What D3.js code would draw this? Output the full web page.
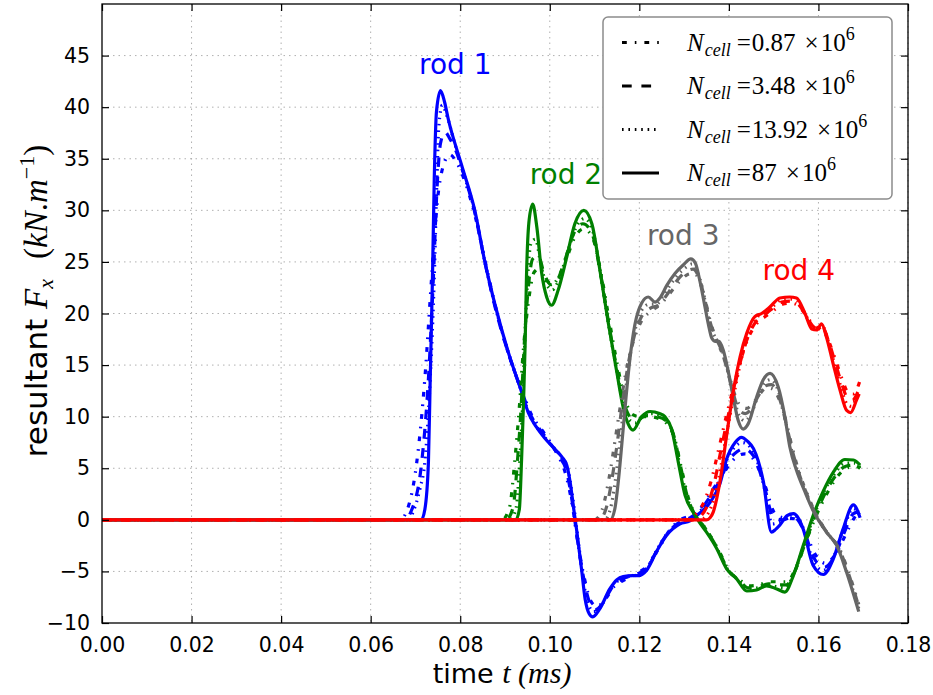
<!DOCTYPE html>
<html><head><meta charset="utf-8">
<script src="https://cdn.jsdelivr.net/npm/d3@7"></script>
<style>body{margin:0;background:#fff}svg{display:block}</style>
</head><body>
<svg id="c" width="933" height="695"></svg>
<script>
// ---------- data ----------
const xTicks = [0, 0.02, 0.04, 0.06, 0.08, 0.10, 0.12, 0.14, 0.16, 0.18];
const yTicks = [-10, -5, 0, 5, 10, 15, 20, 25, 30, 35, 40, 45];
const rodNames = ["rod 1", "rod 2", "rod 3", "rod 4"];
const rodColors = ["#0000ff", "#008000", "#666666", "#ff0000"];
const meshLabels = ["0.87", "3.48", "13.92", "87"];
// label anchor positions in data space [t, F]
const rodLabelPos = [[0.0789, 43.2], [0.1036, 32.6], [0.1298, 26.6], [0.1556, 23.2]];

// rod 1 (blue)
const rod1_087 = [[0,0],[0.0665,0],[0.0680,0.8],[0.0703,5.6],[0.0721,13.7],[0.0736,23.4],[0.0748,30.5],[0.0762,34.3],[0.0777,35.4],[0.0790,34.8],[0.0808,33.1],[0.0833,29.5],[0.0855,25.2],[0.0878,20.8],[0.0907,16.2],[0.0937,12.6],[0.0958,10.3],[0.0989,8.3],[0.1015,6.5],[0.1035,4.5],[0.1050,1.5],[0.1063,-2.3],[0.1078,-5.8],[0.1092,-7.9],[0.1106,-8.4],[0.1122,-7.8],[0.1145,-6.4],[0.1168,-5.8],[0.1198,-5.1],[0.1222,-4.3],[0.1243,-2.8],[0.1268,-1.0],[0.1291,0.0],[0.1313,0.4],[0.1338,1.2],[0.1362,2.8],[0.1385,4.3],[0.1402,5.4],[0.1420,6.2],[0.1436,6.4],[0.1458,5.7],[0.1480,3.4],[0.1503,0.6],[0.1522,0.2],[0.1546,0.1],[0.1568,-0.9],[0.1592,-3.3],[0.1615,-4.2],[0.1637,-3.4],[0.1660,-1.5],[0.1680,0.2],[0.1693,0.9]];
const rod1_348 = [[0,0],[0.0675,0],[0.0690,0.8],[0.0714,5.6],[0.0729,13.7],[0.0740,23.4],[0.0748,32],[0.0756,36.5],[0.0766,37.6],[0.0776,37.0],[0.0790,35.8],[0.0808,33.5],[0.0833,29.7],[0.0855,25.0],[0.0878,20.6],[0.0907,16.2],[0.0937,12.5],[0.0955,10.4],[0.0989,8.1],[0.1020,6.2],[0.1038,4.6],[0.1050,1.8],[0.1062,-2.0],[0.1075,-5.5],[0.1088,-7.9],[0.1102,-8.7],[0.1118,-8.1],[0.1140,-6.5],[0.1164,-5.7],[0.1198,-5.2],[0.1220,-4.5],[0.1240,-2.9],[0.1265,-1.2],[0.1291,-0.2],[0.1313,0.2],[0.1335,0.9],[0.1360,2.4],[0.1382,4.0],[0.1398,5.6],[0.1418,6.6],[0.1433,6.9],[0.1455,6.2],[0.1477,3.6],[0.1500,0.2],[0.1520,0.0],[0.1544,0.3],[0.1566,-0.9],[0.1590,-3.7],[0.1613,-4.6],[0.1635,-3.6],[0.1657,-1.3],[0.1678,0.6],[0.1693,0.8]];
const rod1_1392 = [[0,0],[0.0685,0],[0.0695,0.8],[0.0710,3.0],[0.0721,5.6],[0.0733,13.7],[0.0742,23.4],[0.0748,33],[0.0752,38],[0.0760,40.2],[0.0770,39.2],[0.0785,36.9],[0.0803,34.2],[0.0833,29.8],[0.0855,25.0],[0.0878,20.7],[0.0907,16.3],[0.0937,12.4],[0.0952,10.5],[0.0989,8.0],[0.1027,6.0],[0.1040,5.0],[0.1050,2.5],[0.1062,-1.5],[0.1073,-5.2],[0.1082,-7.6],[0.1098,-8.9],[0.1114,-8.4],[0.1134,-6.8],[0.1164,-5.6],[0.1198,-5.3],[0.1216,-4.7],[0.1238,-3.0],[0.1261,-1.4],[0.1291,-0.3],[0.1313,0.0],[0.1330,0.6],[0.1358,2.0],[0.1380,3.8],[0.1395,5.8],[0.1414,7.1],[0.1430,7.5],[0.1455,6.6],[0.1477,3.5],[0.1497,-0.4],[0.1514,-0.2],[0.1544,0.5],[0.1566,-0.8],[0.1588,-4.0],[0.1611,-4.9],[0.1633,-3.7],[0.1655,-1.0],[0.1678,1.1],[0.1693,0.4]];
const rod1_87 = [[0,0],[0.0713,0],[0.0721,1.0],[0.0729,5.6],[0.0733,13.7],[0.0738,23.4],[0.0742,33],[0.0747,39.6],[0.0756,41.6],[0.0765,40.5],[0.0773,38.9],[0.0803,34.4],[0.0833,29.9],[0.0855,25.0],[0.0878,20.8],[0.0907,16.3],[0.0937,12.4],[0.0952,10.4],[0.0970,9.0],[0.0989,7.9],[0.1010,6.9],[0.1027,6.1],[0.1038,5.3],[0.1046,3.5],[0.1053,1.2],[0.1060,-1.0],[0.1071,-4.8],[0.1079,-7.7],[0.1088,-9.1],[0.1096,-9.4],[0.1112,-8.6],[0.1134,-6.7],[0.1150,-5.8],[0.1164,-5.5],[0.1185,-5.4],[0.1198,-5.4],[0.1216,-4.9],[0.1238,-3.1],[0.1261,-1.5],[0.1291,-0.4],[0.1313,-0.1],[0.1328,0.4],[0.1358,1.7],[0.1380,3.5],[0.1395,5.9],[0.1414,7.5],[0.1428,8.0],[0.1442,7.6],[0.1455,6.9],[0.1477,3.7],[0.1495,-1.2],[0.1505,-0.9],[0.1514,-0.5],[0.1530,0.4],[0.1544,0.6],[0.1556,0.1],[0.1566,-0.9],[0.1588,-4.4],[0.1611,-5.3],[0.1633,-3.8],[0.1655,-0.9],[0.1678,1.45],[0.1693,0.2]];

// rod 2 (green)
const rod2_087 = [[0,0],[0.0893,0],[0.0910,1.2],[0.0922,5.8],[0.0932,10.9],[0.0941,16.5],[0.0952,21.0],[0.0965,24.0],[0.0978,24.4],[0.0992,23.3],[0.1006,22.8],[0.1020,23.6],[0.1038,25.4],[0.1056,27.4],[0.1076,28.2],[0.1096,27.3],[0.1114,24.0],[0.1133,19.3],[0.1151,15.0],[0.1168,11.7],[0.1185,10.2],[0.1202,10.0],[0.1222,10.0],[0.1244,9.8],[0.1262,9.3],[0.1278,8.0],[0.1294,5.0],[0.1309,2.2],[0.1326,0.4],[0.1349,-0.9],[0.1379,-3.1],[0.1401,-5.0],[0.1424,-5.8],[0.1446,-6.4],[0.1468,-6.3],[0.1490,-6.0],[0.1512,-6.0],[0.1530,-6.0],[0.1550,-4.6],[0.1572,-2.1],[0.1594,0.3],[0.1616,2.3],[0.1639,4.0],[0.1662,5.0],[0.1682,5.2],[0.1693,5.0]];
const rod2_348 = [[0,0],[0.0902,0],[0.0918,1.2],[0.0928,5.8],[0.0936,10.9],[0.0943,17.0],[0.0951,22.0],[0.0962,25.3],[0.0974,25.6],[0.0988,23.8],[0.1002,22.8],[0.1016,23.2],[0.1034,25.2],[0.1052,27.6],[0.1074,28.7],[0.1094,27.8],[0.1112,24.2],[0.1131,19.2],[0.1149,14.8],[0.1166,11.3],[0.1182,9.9],[0.1198,9.8],[0.1218,10.1],[0.1240,10.0],[0.1260,9.6],[0.1276,8.3],[0.1292,5.2],[0.1307,2.3],[0.1324,0.5],[0.1347,-0.8],[0.1377,-3.0],[0.1399,-4.9],[0.1422,-5.8],[0.1444,-6.6],[0.1466,-6.5],[0.1488,-6.2],[0.1510,-6.3],[0.1528,-6.3],[0.1548,-4.9],[0.1570,-2.3],[0.1592,0.3],[0.1614,2.5],[0.1637,4.2],[0.1661,5.2],[0.1681,5.3],[0.1693,5.0]];
const rod2_1392 = [[0,0],[0.0912,0],[0.0925,1.2],[0.0933,5.8],[0.0939,10.9],[0.0944,17.1],[0.0950,23.0],[0.0958,26.8],[0.0968,27.2],[0.0980,24.8],[0.0993,22.8],[0.1006,22.3],[0.1022,23.5],[0.1040,26.0],[0.1058,28.3],[0.1078,29.2],[0.1096,28.0],[0.1113,24.0],[0.1131,19.0],[0.1149,14.6],[0.1166,11.0],[0.1180,9.6],[0.1192,9.4],[0.1210,10.1],[0.1230,10.3],[0.1258,9.8],[0.1274,8.5],[0.1290,5.4],[0.1305,2.4],[0.1322,0.6],[0.1345,-0.7],[0.1375,-2.9],[0.1397,-4.8],[0.1420,-5.8],[0.1442,-6.7],[0.1464,-6.6],[0.1486,-6.3],[0.1508,-6.5],[0.1526,-6.6],[0.1546,-5.1],[0.1568,-2.4],[0.1590,0.4],[0.1612,2.7],[0.1635,4.4],[0.1660,5.5],[0.1680,5.5],[0.1693,5.1]];
const rod2_87 = [[0,0],[0.0924,0],[0.0932,1.0],[0.0937,5.8],[0.0941,10.9],[0.0945,17.1],[0.0948,23.6],[0.0954,29.1],[0.0962,30.6],[0.0971,28.4],[0.0982,23.9],[0.0993,21.6],[0.1004,20.8],[0.1019,22.3],[0.1038,25.5],[0.1056,28.7],[0.1076,30.0],[0.1094,28.7],[0.1112,24.2],[0.1131,19.0],[0.1149,14.5],[0.1164,10.9],[0.1175,9.3],[0.1186,8.7],[0.1205,10.0],[0.1224,10.5],[0.1245,10.3],[0.1257,10.0],[0.1272,8.8],[0.1287,5.6],[0.1302,2.4],[0.1320,0.75],[0.1335,-0.3],[0.1350,-1.2],[0.1373,-2.8],[0.1395,-4.75],[0.1417,-5.7],[0.1440,-6.9],[0.1462,-6.8],[0.1484,-6.4],[0.1507,-6.7],[0.1525,-7.0],[0.1544,-5.4],[0.1566,-2.5],[0.1588,0.4],[0.1611,2.8],[0.1633,4.6],[0.1659,5.85],[0.1678,5.8],[0.1693,5.3]];

// rod 3 (grey)
const rod3_087 = [[0,0],[0.1100,0],[0.1117,1.0],[0.1131,3.7],[0.1143,6.9],[0.1155,10.3],[0.1170,14.3],[0.1186,17.2],[0.1204,19.2],[0.1225,20.2],[0.1245,20.8],[0.1262,21.6],[0.1278,22.5],[0.1294,23.3],[0.1309,23.8],[0.1322,23.9],[0.1334,23.2],[0.1347,21.3],[0.1360,19.0],[0.1373,17.4],[0.1387,15.9],[0.1400,14.1],[0.1412,12.3],[0.1425,11.1],[0.1439,10.8],[0.1454,11.3],[0.1469,12.2],[0.1484,12.8],[0.1497,12.7],[0.1514,11.5],[0.1529,9.3],[0.1542,6.9],[0.1557,4.6],[0.1576,2.4],[0.1594,0.6],[0.1624,-1.5],[0.1647,-2.8],[0.1669,-5.3],[0.1690,-8.2]];
const rod3_348 = [[0,0],[0.1110,0],[0.1125,1.0],[0.1138,3.7],[0.1149,6.9],[0.1160,10.6],[0.1174,14.8],[0.1188,17.7],[0.1205,19.7],[0.1224,20.5],[0.1242,20.8],[0.1258,21.6],[0.1274,22.6],[0.1290,23.5],[0.1306,24.1],[0.1320,24.3],[0.1332,23.6],[0.1344,21.8],[0.1356,19.5],[0.1368,17.9],[0.1382,16.6],[0.1396,14.6],[0.1409,12.4],[0.1422,10.7],[0.1437,10.3],[0.1452,10.9],[0.1467,12.1],[0.1482,13.0],[0.1495,13.1],[0.1512,11.9],[0.1527,9.5],[0.1540,7.0],[0.1555,4.7],[0.1574,2.5],[0.1592,0.7],[0.1622,-1.4],[0.1645,-2.7],[0.1667,-5.2],[0.1690,-8.4]];
const rod3_1392 = [[0,0],[0.1122,0],[0.1135,1.0],[0.1146,3.7],[0.1155,6.9],[0.1165,10.8],[0.1177,15.2],[0.1190,18.3],[0.1205,20.3],[0.1222,20.9],[0.1238,20.9],[0.1252,21.6],[0.1268,22.7],[0.1285,23.7],[0.1302,24.4],[0.1318,24.8],[0.1330,24.0],[0.1340,22.6],[0.1350,20.5],[0.1360,18.6],[0.1372,17.5],[0.1385,16.4],[0.1398,14.4],[0.1410,12.1],[0.1422,10.2],[0.1436,9.6],[0.1450,10.3],[0.1465,12.0],[0.1480,13.3],[0.1494,13.6],[0.1511,12.4],[0.1526,9.7],[0.1538,7.1],[0.1553,4.8],[0.1572,2.6],[0.1590,0.8],[0.1620,-1.3],[0.1643,-2.6],[0.1665,-5.2],[0.1690,-8.6]];
const rod3_87 = [[0,0],[0.1135,0],[0.1145,1.0],[0.1153,3.7],[0.1160,6.9],[0.1168,10.8],[0.1179,15.6],[0.1190,18.9],[0.1205,21.0],[0.1220,21.6],[0.1235,21.1],[0.1246,21.5],[0.1261,22.7],[0.1280,23.9],[0.1298,24.7],[0.1315,25.3],[0.1325,24.9],[0.1335,23.2],[0.1345,21.0],[0.1354,19.0],[0.1362,17.6],[0.1370,17.3],[0.1378,17.3],[0.1387,16.5],[0.1399,14.3],[0.1410,11.8],[0.1421,9.6],[0.1432,8.8],[0.1443,9.3],[0.1462,11.9],[0.1477,13.6],[0.1492,14.2],[0.1510,12.9],[0.1525,10.0],[0.1536,7.1],[0.1551,4.8],[0.1570,2.7],[0.1588,0.9],[0.1618,-1.2],[0.1641,-2.5],[0.1663,-5.1],[0.1690,-8.9]];

// rod 4 (red)
const rod4_087 = [[0,0],[0.1305,0],[0.1325,0.5],[0.1343,1.6],[0.1360,3.7],[0.1377,6.8],[0.1394,10.0],[0.1410,12.8],[0.1426,15.4],[0.1443,17.6],[0.1462,19.0],[0.1481,19.7],[0.1500,20.3],[0.1520,20.9],[0.1540,21.0],[0.1557,20.7],[0.1574,19.7],[0.1589,18.9],[0.1602,18.5],[0.1613,18.2],[0.1624,17.2],[0.1639,15.4],[0.1654,13.5],[0.1667,12.3],[0.1678,12.2],[0.1688,12.9],[0.1692,13.4]];
const rod4_348 = [[0,0],[0.1320,0],[0.1338,0.4],[0.1352,1.4],[0.1367,3.5],[0.1382,6.7],[0.1398,10.0],[0.1413,13.0],[0.1428,15.7],[0.1444,17.9],[0.1462,19.3],[0.1480,19.9],[0.1498,20.5],[0.1518,21.1],[0.1538,21.2],[0.1555,20.9],[0.1572,19.8],[0.1587,18.8],[0.1600,18.5],[0.1611,18.5],[0.1622,17.4],[0.1637,15.3],[0.1652,13.2],[0.1665,11.8],[0.1676,11.6],[0.1687,12.3],[0.1692,12.8]];
const rod4_1392 = [[0,0],[0.1335,0],[0.1348,0.3],[0.1360,1.2],[0.1374,3.3],[0.1388,6.6],[0.1402,10.0],[0.1416,13.2],[0.1430,16.0],[0.1445,18.2],[0.1462,19.6],[0.1478,20.0],[0.1496,20.6],[0.1516,21.3],[0.1537,21.4],[0.1553,21.2],[0.1571,19.9],[0.1586,18.7],[0.1598,18.5],[0.1609,18.8],[0.1620,17.6],[0.1635,15.2],[0.1650,12.9],[0.1664,11.2],[0.1674,11.0],[0.1686,11.9],[0.1692,12.4]];
const rod4_87 = [[0,0],[0.1350,0],[0.1358,0.2],[0.1365,0.75],[0.1380,3.7],[0.1395,8.2],[0.1410,12.5],[0.1425,15.8],[0.1440,18.1],[0.1458,19.7],[0.1473,20.0],[0.1492,20.65],[0.1514,21.5],[0.1536,21.6],[0.1551,21.5],[0.1570,20.0],[0.1585,18.5],[0.1596,18.4],[0.1607,19.0],[0.1618,17.7],[0.1633,15.1],[0.1648,12.6],[0.1663,10.6],[0.1672,10.4],[0.1685,11.6],[0.1691,12.2]];

const rodSeries = [
  [rod1_087, rod1_348, rod1_1392, rod1_87],
  [rod2_087, rod2_348, rod2_1392, rod2_87],
  [rod3_087, rod3_348, rod3_1392, rod3_87],
  [rod4_087, rod4_348, rod4_1392, rod4_87]
];

// ---------- style / layout ----------
const W = 933, H = 695;
const L = 102, R = 908, T = 4, B = 623;
const LW = 3.2;
const dashes = ["4.8,8,1.6,8", "9.7,9.7", "1.6,4.8", null];
const serif = "'Liberation Serif', 'DejaVu Serif', serif";
const sans = "'DejaVu Sans', sans-serif";

const svg = d3.select("#c");
const x = d3.scaleLinear().domain([0, 0.18]).range([L, R]);
const y = d3.scaleLinear().domain([-10, 50]).range([B, T]);

svg.append("rect").attr("width", W).attr("height", H).attr("fill", "#fff");

// grid
const grid = svg.append("g").attr("stroke", "#b0b0b0").attr("stroke-width", 1).attr("stroke-dasharray", "1.5,4");
grid.selectAll(".gx").data(xTicks.slice(1)).enter().append("line")
  .attr("x1", d => x(d)).attr("x2", d => x(d)).attr("y1", T).attr("y2", B);
grid.selectAll(".gy").data(yTicks.slice(1)).enter().append("line")
  .attr("x1", L).attr("x2", R).attr("y1", d => y(d)).attr("y2", d => y(d));

// clip
svg.append("clipPath").attr("id", "clip").append("rect")
  .attr("x", L).attr("y", T).attr("width", R - L).attr("height", B - T);

const line = d3.line().x(d => x(d[0])).y(d => y(d[1])).curve(d3.curveMonotoneX);
const plot = svg.append("g").attr("clip-path", "url(#clip)");
rodSeries.forEach((series, ri) => {
  series.forEach((s, mi) => {
    const p = plot.append("path").datum(s)
      .attr("d", line).attr("fill", "none")
      .attr("stroke", rodColors[ri]).attr("stroke-width", LW)
      .attr("stroke-linejoin", "round");
    if (dashes[mi]) p.attr("stroke-dasharray", dashes[mi]);
  });
});

// rod labels
svg.selectAll(".rl").data(rodNames).enter().append("text")
  .attr("x", (d, i) => x(rodLabelPos[i][0]))
  .attr("y", (d, i) => y(rodLabelPos[i][1]))
  .attr("text-anchor", "middle")
  .attr("font-family", sans).attr("font-size", 28)
  .attr("fill", (d, i) => rodColors[i]).text(d => d);

// frame
svg.append("rect").attr("x", L).attr("y", T).attr("width", R - L).attr("height", B - T)
  .attr("fill", "none").attr("stroke", "#000").attr("stroke-width", 1.3);

// axes (ticks inside, all four sides)
const tl = 7;
const xa = d3.axisBottom(x).tickValues(xTicks).tickSize(-tl).tickPadding(14).tickFormat(d3.format(".2f"));
const xt = d3.axisTop(x).tickValues(xTicks).tickSize(-tl).tickFormat("");
const ya = d3.axisLeft(y).tickValues(yTicks).tickSize(-tl).tickPadding(12).tickFormat(d3.format("d"));
const yr = d3.axisRight(y).tickValues(yTicks).tickSize(-tl).tickFormat("");
function styleAxis(g) {
  g.select(".domain").remove();
  g.selectAll(".tick line").attr("stroke", "#000").attr("stroke-width", 1.2);
  g.selectAll("text").attr("font-family", sans).attr("font-size", 20.5).attr("fill", "#000");
}
svg.append("g").attr("transform", `translate(0,${B})`).call(xa).call(styleAxis);
svg.append("g").attr("transform", `translate(0,${T})`).call(xt).call(styleAxis);
svg.append("g").attr("transform", `translate(${L},0)`).call(ya).call(styleAxis);
svg.append("g").attr("transform", `translate(${R},0)`).call(yr).call(styleAxis);

// x label
const xl = svg.append("text").attr("x", 502).attr("y", 683).attr("text-anchor", "middle")
  .attr("font-size", 27).attr("fill", "#000");
xl.append("tspan").attr("font-family", sans).text("time ");
xl.append("tspan").attr("font-family", serif).attr("font-style", "italic").attr("font-size", 30)
  .text("t (ms)");

// y label
const yl = svg.append("text").attr("transform", `translate(47,301) rotate(-90)`)
  .attr("text-anchor", "middle").attr("font-size", 31).attr("fill", "#000");
yl.append("tspan").attr("font-family", sans).text("resultant ");
yl.append("tspan").attr("font-family", serif).attr("font-style", "italic").attr("font-size", 33).text("F");
yl.append("tspan").attr("font-family", serif).attr("font-style", "italic").attr("font-size", 22).attr("dy", 6).text("x");
yl.append("tspan").attr("font-family", serif).attr("font-size", 33).attr("dy", -6).attr("dx", 20).text("(");
yl.append("tspan").attr("font-family", serif).attr("font-style", "italic").attr("font-size", 33).text("kN");
yl.append("tspan").attr("font-family", serif).attr("font-size", 33).text(".");
yl.append("tspan").attr("font-family", serif).attr("font-style", "italic").attr("font-size", 33).text("m");
yl.append("tspan").attr("font-family", serif).attr("font-size", 22).attr("dy", -13).text("\u22121");
yl.append("tspan").attr("font-family", serif).attr("font-size", 33).attr("dy", 13).text(")");

// legend
const lg = svg.append("g");
lg.append("rect").attr("x", 603).attr("y", 17).attr("width", 289).attr("height", 182).attr("rx", 5)
  .attr("fill", "#fff").attr("stroke", "#8c8c8c").attr("stroke-width", 1.5);
const rowY = [42.5, 86, 129.5, 173];
meshLabels.forEach((m, i) => {
  const ln = lg.append("line").attr("x1", 622).attr("x2", 659).attr("y1", rowY[i]).attr("y2", rowY[i])
    .attr("stroke", "#000").attr("stroke-width", LW);
  if (dashes[i]) ln.attr("stroke-dasharray", dashes[i]);
  const t = lg.append("text").attr("x", 687).attr("y", rowY[i] + 8).attr("font-family", serif)
    .attr("font-size", 25).attr("fill", "#000");
  t.append("tspan").attr("font-style", "italic").text("N");
  t.append("tspan").attr("font-style", "italic").attr("font-size", 18).attr("dy", 5).attr("dx", 1).text("cell");
  t.append("tspan").attr("dy", -5).attr("dx", 6).text("=");
  t.append("tspan").attr("dx", 1).text(m);
  t.append("tspan").attr("dx", 9).text("\u00d7");
  t.append("tspan").attr("dx", 2).text("10");
  t.append("tspan").attr("font-size", 18).attr("dy", -11).text("6");
});
</script>
</body></html>
